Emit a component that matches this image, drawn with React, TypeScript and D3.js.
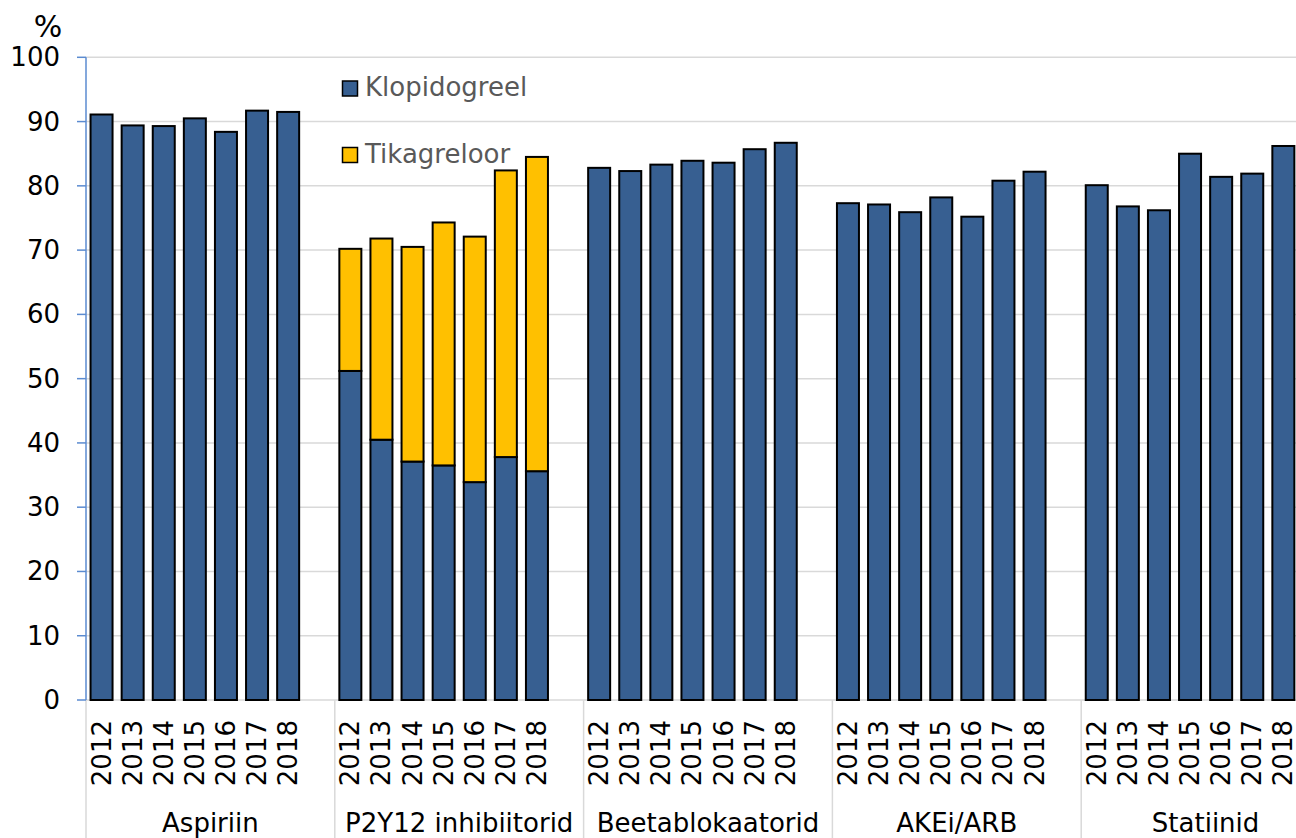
import React from "react";
import * as d3 from "d3";

const groups = ["Aspiriin", "P2Y12 inhibiitorid", "Beetablokaatorid", "AKEi/ARB", "Statiinid"];
const years = ["2012", "2013", "2014", "2015", "2016", "2017", "2018"];
const yTicks = [0, 10, 20, 30, 40, 50, 60, 70, 80, 90, 100];

// Klopidogreel (blue) – main series value for each group/year
const aspiriin = [91.1, 89.4, 89.3, 90.5, 88.4, 91.7, 91.5];
const p2y12Klopidogreel = [51.2, 40.5, 37.1, 36.5, 33.9, 37.8, 35.6];
const p2y12Tikagreloor = [19.0, 31.3, 33.4, 37.8, 38.2, 44.6, 48.9];
const beeta = [82.8, 82.3, 83.3, 83.9, 83.6, 85.7, 86.7];
const akei = [77.3, 77.1, 75.9, 78.2, 75.2, 80.8, 82.2];
const statiinid = [80.1, 76.8, 76.2, 85.0, 81.4, 81.9, 86.2];

const blueSeries = [aspiriin, p2y12Klopidogreel, beeta, akei, statiinid];
const yellowSeries = [null, p2y12Tikagreloor, null, null, null];

const W = 1296;
const H = 838;
const X0 = 86;
const SLOT = 31.1;
const FONT = "'DejaVu Sans', Verdana, sans-serif";
const FS = 26;
const BLUE = "#375F91";
const YELLOW = "#FFC000";
const GRID = "#D9D9D9";
const AXISBLUE = "#5B8BD0";

export default function App() {
  const y = d3.scaleLinear().domain([0, 100]).range([700, 57.3]);
  const gx = d3
    .scaleBand<string>()
    .domain(groups)
    .range([X0, X0 + groups.length * 8 * SLOT])
    .padding(0);
  const slots = [...years, "blank"];
  const pad = 1 - 22 / SLOT;
  const ix = d3
    .scaleBand<string>()
    .domain(slots)
    .range([0, gx.bandwidth()])
    .paddingInner(pad)
    .paddingOuter(pad / 2);
  const bw = ix.bandwidth();

  return (
    <svg
      width={W}
      height={H}
      style={{ position: "absolute", left: 0, top: 0, background: "#fff" }}
      fontFamily={FONT}
    >
      {/* gridlines */}
      {yTicks.map((t) => (
        <line key={"g" + t} x1={X0} x2={W} y1={y(t)} y2={y(t)} stroke={GRID} strokeWidth={1.5} />
      ))}
      {/* group separators */}
      {groups.map((g) => (
        <line key={"s" + g} x1={gx(g)!} x2={gx(g)!} y1={y(0)} y2={H} stroke={GRID} strokeWidth={1.5} />
      ))}
      {/* bars */}
      {groups.map((g, gi) =>
        years.map((yr, i) => {
          const x = gx(g)! + ix(yr)!;
          const b = blueSeries[gi][i];
          const ys = yellowSeries[gi];
          return (
            <g key={g + yr}>
              <rect x={x} y={y(b)} width={bw} height={y(0) - y(b)} fill={BLUE} stroke="#000" strokeWidth={2} />
              {ys && (
                <rect
                  x={x}
                  y={y(b + ys[i])}
                  width={bw}
                  height={y(b) - y(b + ys[i])}
                  fill={YELLOW}
                  stroke="#000"
                  strokeWidth={2}
                />
              )}
            </g>
          );
        })
      )}
      {/* y axis */}
      <line x1={X0} x2={X0} y1={y(100)} y2={y(0)} stroke={AXISBLUE} strokeWidth={1.5} />
      {yTicks.map((t) => (
        <g key={"t" + t}>
          <line x1={77} x2={X0} y1={y(t)} y2={y(t)} stroke={AXISBLUE} strokeWidth={1.5} />
          <text x={60} y={y(t)} textAnchor="end" dominantBaseline="central" fontSize={FS} fill="#000">
            {t}
          </text>
        </g>
      ))}
      <text x={48} y={37} textAnchor="middle" fontSize={30} fill="#000">
        %
      </text>
      {/* year labels */}
      {groups.map((g) =>
        years.map((yr) => {
          const cx = gx(g)! + ix(yr)! + bw / 2;
          return (
            <text
              key={"yl" + g + yr}
              transform={`translate(${cx},720) rotate(-90)`}
              textAnchor="end"
              dominantBaseline="central"
              fontSize={FS}
              fill="#000"
            >
              {yr}
            </text>
          );
        })
      )}
      {/* group labels */}
      {groups.map((g) => (
        <text key={"gl" + g} x={gx(g)! + gx.bandwidth() / 2} y={832} textAnchor="middle" fontSize={FS} fill="#000">
          {g}
        </text>
      ))}
      {/* legend */}
      <rect x={342.5} y={81} width={15} height={15} fill={BLUE} stroke="#000" strokeWidth={1.5} />
      <text x={365} y={96} fontSize={FS} fill="#595959">
        Klopidogreel
      </text>
      <rect x={342.5} y={147.5} width={15} height={15} fill={YELLOW} stroke="#000" strokeWidth={1.5} />
      <text x={365} y={163} fontSize={FS} fill="#595959">
        Tikagreloor
      </text>
    </svg>
  );
}
